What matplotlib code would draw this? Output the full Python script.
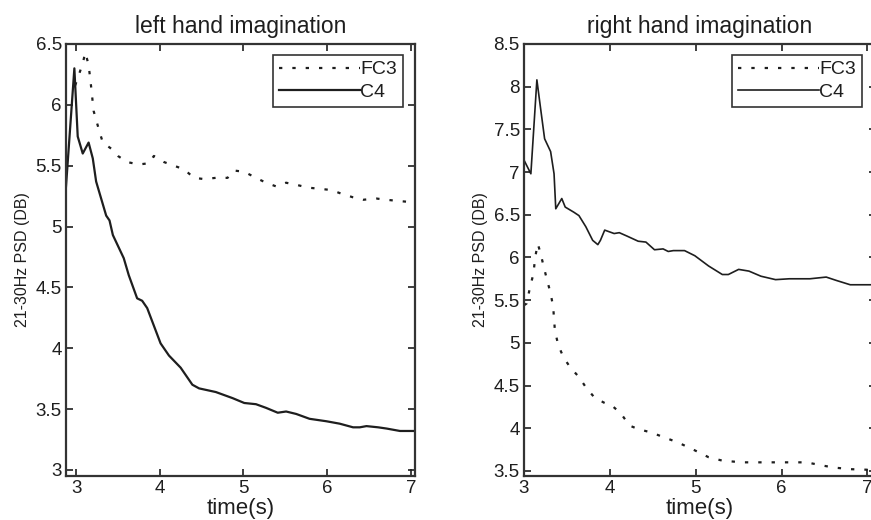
import matplotlib
matplotlib.use("Agg")
import matplotlib.pyplot as plt

plt.rcParams['font.family'] = ['Liberation Sans', 'DejaVu Sans']

# ---- left hand imagination ----
L_c4_t = [2.88, 2.98, 3.02, 3.08, 3.15, 3.20, 3.24, 3.36, 3.40, 3.44, 3.57, 3.63,
          3.73, 3.79, 3.85, 4.01, 4.11, 4.25, 4.39, 4.47, 4.67, 4.87, 5.01, 5.15,
          5.27, 5.41, 5.51, 5.63, 5.79, 5.99, 6.15, 6.31, 6.39, 6.47, 6.61, 6.71,
          6.87, 7.05]
L_c4_v = [5.33, 6.30, 5.74, 5.60, 5.69, 5.56, 5.37, 5.09, 5.05, 4.93, 4.74, 4.60,
          4.41, 4.39, 4.33, 4.04, 3.94, 3.84, 3.70, 3.67, 3.64, 3.59, 3.55, 3.54,
          3.51, 3.47, 3.48, 3.46, 3.42, 3.40, 3.38, 3.35, 3.35, 3.36, 3.35, 3.34,
          3.32, 3.32]

L_fc3_t = [2.99, 3.08, 3.11, 3.15, 3.18, 3.21, 3.28, 3.32, 3.42, 3.50, 3.61, 3.75,
           3.87, 3.93, 4.05, 4.17, 4.29, 4.41, 4.53, 4.67, 4.81, 4.89, 5.01, 5.15,
           5.27, 5.39, 5.51, 5.65, 5.77, 5.91, 6.05, 6.17, 6.31, 6.43, 6.59, 6.71,
           6.85, 7.02]
L_fc3_v = [6.16, 6.34, 6.43, 6.33, 6.15, 5.95, 5.78, 5.69, 5.64, 5.58, 5.53, 5.51,
           5.52, 5.58, 5.53, 5.50, 5.47, 5.40, 5.39, 5.40, 5.40, 5.46, 5.45, 5.40,
           5.36, 5.33, 5.36, 5.34, 5.32, 5.31, 5.30, 5.27, 5.24, 5.22, 5.23, 5.22,
           5.21, 5.20]

# ---- right hand imagination ----
R_c4_t = [3.00, 3.08, 3.15, 3.19, 3.24, 3.31, 3.35, 3.37, 3.44, 3.48, 3.58, 3.64,
          3.72, 3.80, 3.86, 3.89, 3.94, 4.05, 4.11, 4.20, 4.33, 4.42, 4.52, 4.62,
          4.68, 4.74, 4.87, 4.99, 5.15, 5.31, 5.38, 5.50, 5.62, 5.76, 5.93, 6.09,
          6.33, 6.52, 6.64, 6.80, 7.10]
R_c4_v = [7.14, 6.98, 8.08, 7.77, 7.39, 7.24, 6.98, 6.57, 6.69, 6.59, 6.53, 6.49,
          6.36, 6.20, 6.15, 6.20, 6.32, 6.28, 6.29, 6.25, 6.19, 6.18, 6.09, 6.10,
          6.07, 6.08, 6.08, 6.02, 5.90, 5.80, 5.80, 5.86, 5.84, 5.78, 5.74, 5.75,
          5.75, 5.77, 5.73, 5.68, 5.68]

R_fc3_t = [3.00, 3.03, 3.07, 3.11, 3.13, 3.16, 3.19, 3.23, 3.27, 3.31, 3.34, 3.36,
           3.40, 3.46, 3.54, 3.64, 3.72, 3.82, 3.93, 4.03, 4.13, 4.23, 4.33, 4.48,
           4.64, 4.80, 4.99, 5.15, 5.31, 5.54, 5.82, 6.05, 6.29, 6.44, 6.60, 6.80,
           7.10]
R_fc3_v = [5.44, 5.46, 5.65, 5.81, 6.00, 6.16, 6.06, 5.89, 5.73, 5.58, 5.42, 5.14,
           4.97, 4.83, 4.71, 4.60, 4.48, 4.36, 4.30, 4.26, 4.17, 4.03, 3.99, 3.95,
           3.89, 3.83, 3.74, 3.66, 3.62, 3.60, 3.60, 3.60, 3.60, 3.57, 3.54, 3.52,
           3.51]

x_ticks = [3, 4, 5, 6, 7]
L_yticks = [3, 3.5, 4, 4.5, 5, 5.5, 6, 6.5]
R_yticks = [3.5, 4, 4.5, 5, 5.5, 6, 6.5, 7, 7.5, 8, 8.5]

ink = '#1e1e1e'

fig = plt.figure(figsize=(8.71, 5.2), dpi=100)
axL = fig.add_axes([66/871, 44/520, 349/871, 432/520])
# right panel runs slightly past the picture edge, as in the original scan
axR = fig.add_axes([524/871, 44/520, 352/871, 432/520])


def style(ax, title, xlim, ylim, yticks):
    ax.set_xlim(*xlim)
    ax.set_ylim(*ylim)
    ax.set_xticks(x_ticks)
    ax.set_yticks(yticks)
    ax.set_yticklabels([('%g' % v) for v in yticks])
    ax.tick_params(direction='in', length=5, width=1.2, labelsize=13.5,
                   top=True, right=True, colors=ink, pad=3)
    for s in ax.spines.values():
        s.set_linewidth(1.6)
        s.set_color('#333333')
    ax.set_title(title, fontsize=16.5, color=ink, pad=8)
    ax.set_xlabel('time(s)', fontsize=16, color=ink, labelpad=0.5)
    ax.set_ylabel('21-30Hz PSD (DB)', fontsize=11.5, color=ink, labelpad=4)


axL.plot(L_fc3_t, L_fc3_v, color=ink, lw=1.6, dashes=(1.5, 4.5), label='FC3')
axL.plot(L_c4_t, L_c4_v, color=ink, lw=1.6, label='C4')
style(axL, 'left hand imagination', (2.88, 7.05), (2.95, 6.5), L_yticks)

axR.plot(R_fc3_t, R_fc3_v, color=ink, lw=1.6, dashes=(1.5, 4.5), label='FC3')
axR.plot(R_c4_t, R_c4_v, color=ink, lw=1.2, label='C4')
style(axR, 'right hand imagination', (3, 7.1), (3.44, 8.5), R_yticks)

for ax, anchor in ((axL, (403/871, 1 - 55/520)), (axR, (862/871, 1 - 55/520))):
    leg = ax.legend(loc='upper right', bbox_to_anchor=anchor,
                    bbox_transform=fig.transFigure, fontsize=14,
                    handlelength=4.2, handletextpad=0.0, borderpad=0.3,
                    labelspacing=0.25, borderaxespad=0, fancybox=False,
                    framealpha=1, edgecolor='#333333')
    leg.get_frame().set_linewidth(1.2)
    for t in leg.get_texts():
        t.set_color(ink)

fig.savefig('out.png', dpi=100)
